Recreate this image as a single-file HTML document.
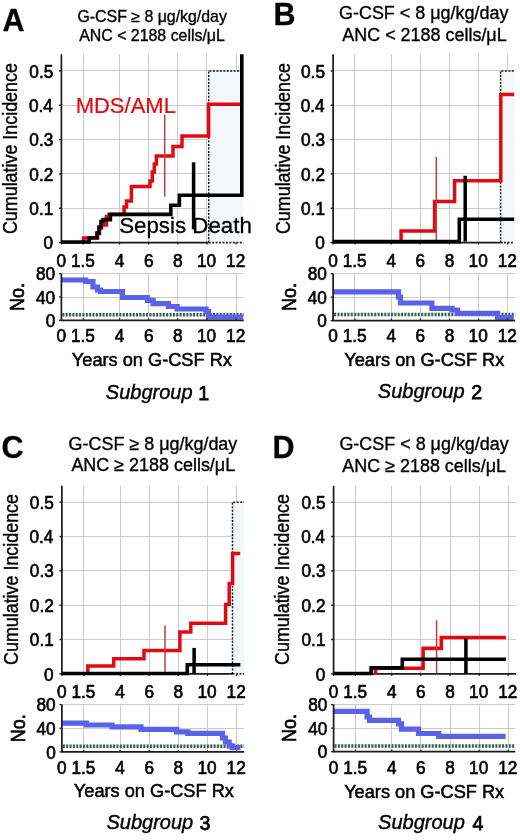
<!DOCTYPE html>
<html><head><meta charset="utf-8"><style>
html,body{margin:0;padding:0;background:#fff;}
svg{display:block;will-change:transform;filter:blur(0.35px);}
text{font-family:"Liberation Sans",sans-serif;}
</style></head><body>
<svg width="520" height="840" viewBox="0 0 520 840">
<rect width="520" height="840" fill="#fff"/>
<path d="M83.50,54.2 V242.6" stroke="#cbcbcb" stroke-width="1.0" fill="none" />
<path d="M119.50,54.2 V242.6" stroke="#cbcbcb" stroke-width="1.0" fill="none" />
<path d="M148.50,54.2 V242.6" stroke="#cbcbcb" stroke-width="1.0" fill="none" />
<path d="M177.50,54.2 V242.6" stroke="#cbcbcb" stroke-width="1.0" fill="none" />
<path d="M206.50,54.2 V242.6" stroke="#cbcbcb" stroke-width="1.0" fill="none" />
<path d="M236.50,54.2 V242.6" stroke="#cbcbcb" stroke-width="1.0" fill="none" />
<path d="M61.4,208.50 H243.5" stroke="#cbcbcb" stroke-width="1.0" fill="none" />
<path d="M61.4,173.50 H243.5" stroke="#cbcbcb" stroke-width="1.0" fill="none" />
<path d="M61.4,139.50 H243.5" stroke="#cbcbcb" stroke-width="1.0" fill="none" />
<path d="M61.4,105.50 H243.5" stroke="#cbcbcb" stroke-width="1.0" fill="none" />
<path d="M61.4,70.50 H243.5" stroke="#cbcbcb" stroke-width="1.0" fill="none" />
<rect x="208.70" y="70.90" width="34.80" height="171.70" fill="#f4f7f9"/>
<path d="M208.7,242.6 V70.90 H243.5" stroke="#111" stroke-width="1.5" fill="none" stroke-dasharray="2 1.45"/>
<path d="M61.4,54.2 V242.6 H208.7" stroke="#1a1a1a" stroke-width="1.7" fill="none" />
<path d="M208.7,242.6 H243.5" stroke="#222" stroke-width="1.7" fill="none" stroke-dasharray="2 1.45"/>
<path d="M58.9,242.60 H61.4" stroke="#1a1a1a" stroke-width="1.4" fill="none" />
<path d="M58.9,208.26 H61.4" stroke="#1a1a1a" stroke-width="1.4" fill="none" />
<path d="M58.9,173.92 H61.4" stroke="#1a1a1a" stroke-width="1.4" fill="none" />
<path d="M58.9,139.58 H61.4" stroke="#1a1a1a" stroke-width="1.4" fill="none" />
<path d="M58.9,105.24 H61.4" stroke="#1a1a1a" stroke-width="1.4" fill="none" />
<path d="M58.9,70.90 H61.4" stroke="#1a1a1a" stroke-width="1.4" fill="none" />
<path d="M61.40,242.6 V244.6" stroke="#1a1a1a" stroke-width="1.2" fill="none" />
<path d="M83.22,242.6 V244.6" stroke="#1a1a1a" stroke-width="1.2" fill="none" />
<path d="M119.60,242.6 V244.6" stroke="#1a1a1a" stroke-width="1.2" fill="none" />
<path d="M148.70,242.6 V244.6" stroke="#1a1a1a" stroke-width="1.2" fill="none" />
<path d="M177.80,242.6 V244.6" stroke="#1a1a1a" stroke-width="1.2" fill="none" />
<path d="M206.90,242.6 V244.6" stroke="#1a1a1a" stroke-width="1.2" fill="none" />
<path d="M236.00,242.6 V244.6" stroke="#1a1a1a" stroke-width="1.2" fill="none" />
<path d="M83.5,243 V238 H97.5 V233.5 H99.5 V228 H101.5 V225 H106.5 V216.5 H109 V214.4 H124.1 V207 H126.5 V201 H131.4 V186.5 H150 V181 H152.3 V172 H154.3 V164 H156.4 V156 H173 V146.4 H182 V136 H208.6 V104.3 H242" stroke="#e00a14" stroke-width="3.5" fill="none" stroke-linejoin="miter" stroke-linecap="butt"/>
<path d="M164.7,114.5 V196.7" stroke="#c83a3a" stroke-width="1.5" fill="none" stroke-linejoin="miter" stroke-linecap="butt"/>
<path d="M61.4,242 H89.2 V237.7 H97 V233 H99 V227 H101 V221.5 H103 V219.6 H110.4 V214.4 H170.8 V205.2 H179.4 V195.3 H241.8 V54.3" stroke="#000" stroke-width="3.6" fill="none" stroke-linejoin="miter" stroke-linecap="butt"/>
<path d="M193.6,162.3 V229.4" stroke="#000" stroke-width="3.5" fill="none" stroke-linejoin="miter" stroke-linecap="butt"/>
<path d="M83.50,273.7 V320.3" stroke="#cbcbcb" stroke-width="1.0" fill="none" />
<path d="M119.50,273.7 V320.3" stroke="#cbcbcb" stroke-width="1.0" fill="none" />
<path d="M148.50,273.7 V320.3" stroke="#cbcbcb" stroke-width="1.0" fill="none" />
<path d="M177.50,273.7 V320.3" stroke="#cbcbcb" stroke-width="1.0" fill="none" />
<path d="M206.50,273.7 V320.3" stroke="#cbcbcb" stroke-width="1.0" fill="none" />
<path d="M236.50,273.7 V320.3" stroke="#cbcbcb" stroke-width="1.0" fill="none" />
<path d="M61.4,297.50 H243.8" stroke="#cbcbcb" stroke-width="1.0" fill="none" />
<path d="M61.4,273.50 H243.8" stroke="#cbcbcb" stroke-width="1.0" fill="none" />
<path d="M62.4,314.7 H243.8" stroke="#dce6e2" stroke-width="3.4" fill="none" />
<path d="M62.4,314.7 H243.8" stroke="#35604f" stroke-width="3.5" fill="none" stroke-dasharray="1.9 1.45"/>
<path d="M61.4,280 H85.5 V281.5 H93.0 V287 H97.5 V290 H100.5 V291.5 H122.5 V297.5 H147.5 V300.3 H153.1 V303.6 H168.5 V306.5 H177.1 V309 H206.0 V311.5 H208.5 V317 H243" stroke="#5b62e8" stroke-width="5.2" fill="none" stroke-linejoin="miter"/>
<path d="M61.4,273.7 V320.3 H243.8" stroke="#1a1a1a" stroke-width="1.7" fill="none" />
<path d="M61.40,320.3 V318.3" stroke="#1a1a1a" stroke-width="1.2" fill="none" />
<path d="M83.22,320.3 V318.3" stroke="#1a1a1a" stroke-width="1.2" fill="none" />
<path d="M119.60,320.3 V318.3" stroke="#1a1a1a" stroke-width="1.2" fill="none" />
<path d="M148.70,320.3 V318.3" stroke="#1a1a1a" stroke-width="1.2" fill="none" />
<path d="M177.80,320.3 V318.3" stroke="#1a1a1a" stroke-width="1.2" fill="none" />
<path d="M206.90,320.3 V318.3" stroke="#1a1a1a" stroke-width="1.2" fill="none" />
<path d="M236.00,320.3 V318.3" stroke="#1a1a1a" stroke-width="1.2" fill="none" />
<path d="M58.9,320.30 H61.4" stroke="#1a1a1a" stroke-width="1.2" fill="none" />
<path d="M58.9,297.00 H61.4" stroke="#1a1a1a" stroke-width="1.2" fill="none" />
<path d="M58.9,273.70 H61.4" stroke="#1a1a1a" stroke-width="1.2" fill="none" />
<text transform="translate(2.58,31.00) scale(1.0,1.0)" font-size="30.5" fill="#000" font-weight="bold" stroke="#000" stroke-width="0.3">A</text>
<text transform="translate(77.41,21.70) scale(1.0,1.0)" font-size="15.9" fill="#000" stroke="#000" stroke-width="0.35">G-CSF ≥ 8 μg/kg/day</text>
<text transform="translate(79.20,40.90) scale(1.0,1.0)" font-size="15.9" fill="#000" stroke="#000" stroke-width="0.35">ANC &lt; 2188 cells/μL</text>
<text transform="translate(17.30,234.06) rotate(-90) scale(1,1.08)" font-size="17.9" fill="#000" stroke="#000" stroke-width="0.35">Cumulative Incidence</text>
<text transform="translate(43.46,249.20) scale(1.0,1.08)" font-size="17.2" fill="#000" stroke="#000" stroke-width="0.6">0</text>
<text transform="translate(29.35,214.86) scale(1.0,1.08)" font-size="17.2" fill="#000" stroke="#000" stroke-width="0.6">0.1</text>
<text transform="translate(29.35,180.52) scale(1.0,1.08)" font-size="17.2" fill="#000" stroke="#000" stroke-width="0.6">0.2</text>
<text transform="translate(29.35,146.18) scale(1.0,1.08)" font-size="17.2" fill="#000" stroke="#000" stroke-width="0.6">0.3</text>
<text transform="translate(29.01,111.84) scale(1.0,1.08)" font-size="17.2" fill="#000" stroke="#000" stroke-width="0.6">0.4</text>
<text transform="translate(29.35,77.50) scale(1.0,1.08)" font-size="17.2" fill="#000" stroke="#000" stroke-width="0.6">0.5</text>
<text transform="translate(56.58,266.50) scale(1.0,1.08)" font-size="17.2" fill="#000" stroke="#000" stroke-width="0.6">0</text>
<text transform="translate(71.01,266.50) scale(1.0,1.08)" font-size="17.2" fill="#000" stroke="#000" stroke-width="0.6">1.5</text>
<text transform="translate(114.87,266.50) scale(1.0,1.08)" font-size="17.2" fill="#000" stroke="#000" stroke-width="0.6">4</text>
<text transform="translate(143.88,266.50) scale(1.0,1.08)" font-size="17.2" fill="#000" stroke="#000" stroke-width="0.6">6</text>
<text transform="translate(173.07,266.50) scale(1.0,1.08)" font-size="17.2" fill="#000" stroke="#000" stroke-width="0.6">8</text>
<text transform="translate(196.92,266.50) scale(1.0,1.08)" font-size="17.2" fill="#000" stroke="#000" stroke-width="0.6">10</text>
<text transform="translate(226.11,266.50) scale(1.0,1.08)" font-size="17.2" fill="#000" stroke="#000" stroke-width="0.6">12</text>
<text transform="translate(45.66,326.90) scale(1.0,1.08)" font-size="17.2" fill="#000" stroke="#000" stroke-width="0.6">0</text>
<text transform="translate(36.02,303.60) scale(1.0,1.08)" font-size="17.2" fill="#000" stroke="#000" stroke-width="0.6">40</text>
<text transform="translate(36.02,280.30) scale(1.0,1.08)" font-size="17.2" fill="#000" stroke="#000" stroke-width="0.6">80</text>
<text transform="translate(23.80,310.95) rotate(-90) scale(1,1.08)" font-size="18" fill="#000" stroke="#000" stroke-width="0.6">No.</text>
<text transform="translate(56.58,342.40) scale(1.0,1.08)" font-size="17.2" fill="#000" stroke="#000" stroke-width="0.6">0</text>
<text transform="translate(71.01,342.40) scale(1.0,1.08)" font-size="17.2" fill="#000" stroke="#000" stroke-width="0.6">1.5</text>
<text transform="translate(114.87,342.40) scale(1.0,1.08)" font-size="17.2" fill="#000" stroke="#000" stroke-width="0.6">4</text>
<text transform="translate(143.88,342.40) scale(1.0,1.08)" font-size="17.2" fill="#000" stroke="#000" stroke-width="0.6">6</text>
<text transform="translate(173.07,342.40) scale(1.0,1.08)" font-size="17.2" fill="#000" stroke="#000" stroke-width="0.6">8</text>
<text transform="translate(196.92,342.40) scale(1.0,1.08)" font-size="17.2" fill="#000" stroke="#000" stroke-width="0.6">10</text>
<text transform="translate(226.11,342.40) scale(1.0,1.08)" font-size="17.2" fill="#000" stroke="#000" stroke-width="0.6">12</text>
<text transform="translate(71.85,366.30) scale(1.0,1.0)" font-size="18.2" fill="#000" stroke="#000" stroke-width="0.5">Years on G-CSF Rx</text>
<text transform="translate(105.80,398.60) scale(1.0,1.0)" font-size="20" fill="#000" font-style="italic" stroke="#000" stroke-width="0.4">Subgroup</text>
<text transform="translate(198.23,399.60) scale(1.0,1.0)" font-size="19.6" fill="#000" stroke="#000" stroke-width="0.75">1</text>
<path d="M354.50,54.2 V242.6" stroke="#cbcbcb" stroke-width="1.0" fill="none" />
<path d="M391.50,54.2 V242.6" stroke="#cbcbcb" stroke-width="1.0" fill="none" />
<path d="M420.50,54.2 V242.6" stroke="#cbcbcb" stroke-width="1.0" fill="none" />
<path d="M449.50,54.2 V242.6" stroke="#cbcbcb" stroke-width="1.0" fill="none" />
<path d="M478.50,54.2 V242.6" stroke="#cbcbcb" stroke-width="1.0" fill="none" />
<path d="M507.50,54.2 V242.6" stroke="#cbcbcb" stroke-width="1.0" fill="none" />
<path d="M333.1,208.50 H514.5" stroke="#cbcbcb" stroke-width="1.0" fill="none" />
<path d="M333.1,173.50 H514.5" stroke="#cbcbcb" stroke-width="1.0" fill="none" />
<path d="M333.1,139.50 H514.5" stroke="#cbcbcb" stroke-width="1.0" fill="none" />
<path d="M333.1,105.50 H514.5" stroke="#cbcbcb" stroke-width="1.0" fill="none" />
<path d="M333.1,70.50 H514.5" stroke="#cbcbcb" stroke-width="1.0" fill="none" />
<rect x="500.60" y="70.90" width="13.90" height="171.70" fill="#f4f7f9"/>
<path d="M500.6,242.6 V70.90 H514.5" stroke="#111" stroke-width="1.5" fill="none" stroke-dasharray="2 1.45"/>
<path d="M333.1,54.2 V242.6 H500.6" stroke="#1a1a1a" stroke-width="1.7" fill="none" />
<path d="M500.6,242.6 H514.5" stroke="#222" stroke-width="1.7" fill="none" stroke-dasharray="2 1.45"/>
<path d="M330.6,242.60 H333.1" stroke="#1a1a1a" stroke-width="1.4" fill="none" />
<path d="M330.6,208.26 H333.1" stroke="#1a1a1a" stroke-width="1.4" fill="none" />
<path d="M330.6,173.92 H333.1" stroke="#1a1a1a" stroke-width="1.4" fill="none" />
<path d="M330.6,139.58 H333.1" stroke="#1a1a1a" stroke-width="1.4" fill="none" />
<path d="M330.6,105.24 H333.1" stroke="#1a1a1a" stroke-width="1.4" fill="none" />
<path d="M330.6,70.90 H333.1" stroke="#1a1a1a" stroke-width="1.4" fill="none" />
<path d="M333.10,242.6 V244.6" stroke="#1a1a1a" stroke-width="1.2" fill="none" />
<path d="M354.93,242.6 V244.6" stroke="#1a1a1a" stroke-width="1.2" fill="none" />
<path d="M391.30,242.6 V244.6" stroke="#1a1a1a" stroke-width="1.2" fill="none" />
<path d="M420.40,242.6 V244.6" stroke="#1a1a1a" stroke-width="1.2" fill="none" />
<path d="M449.50,242.6 V244.6" stroke="#1a1a1a" stroke-width="1.2" fill="none" />
<path d="M478.60,242.6 V244.6" stroke="#1a1a1a" stroke-width="1.2" fill="none" />
<path d="M507.70,242.6 V244.6" stroke="#1a1a1a" stroke-width="1.2" fill="none" />
<path d="M401.1,242.6 V231.1 H434.6 V201.5 H454.6 V180.7 H500.8 V94.6 H514.2" stroke="#e00a14" stroke-width="3.5" fill="none" stroke-linejoin="miter" stroke-linecap="butt"/>
<path d="M436.3,156.9 V241" stroke="#c83a3a" stroke-width="1.5" fill="none" stroke-linejoin="miter" stroke-linecap="butt"/>
<path d="M333.1,241.6 H459.3 V219.2 H514.2" stroke="#000" stroke-width="3.6" fill="none" stroke-linejoin="miter" stroke-linecap="butt"/>
<path d="M465.2,175.8 V241.6" stroke="#000" stroke-width="3.5" fill="none" stroke-linejoin="miter" stroke-linecap="butt"/>
<path d="M354.50,273.7 V320.6" stroke="#cbcbcb" stroke-width="1.0" fill="none" />
<path d="M391.50,273.7 V320.6" stroke="#cbcbcb" stroke-width="1.0" fill="none" />
<path d="M420.50,273.7 V320.6" stroke="#cbcbcb" stroke-width="1.0" fill="none" />
<path d="M449.50,273.7 V320.6" stroke="#cbcbcb" stroke-width="1.0" fill="none" />
<path d="M478.50,273.7 V320.6" stroke="#cbcbcb" stroke-width="1.0" fill="none" />
<path d="M507.50,273.7 V320.6" stroke="#cbcbcb" stroke-width="1.0" fill="none" />
<path d="M333.1,297.50 H515.2" stroke="#cbcbcb" stroke-width="1.0" fill="none" />
<path d="M333.1,273.50 H515.2" stroke="#cbcbcb" stroke-width="1.0" fill="none" />
<path d="M334.1,314.5 H515.2" stroke="#dce6e2" stroke-width="3.4" fill="none" />
<path d="M334.1,314.5 H515.2" stroke="#35604f" stroke-width="3.5" fill="none" stroke-dasharray="1.9 1.45"/>
<path d="M333.1,291.9 H398.5 V297 H400.5 V303 H431.9 V308.4 H452.1 V310 H457.5 V313.3 H497.5 V317.7 H513.8" stroke="#5b62e8" stroke-width="5.2" fill="none" stroke-linejoin="miter"/>
<path d="M333.1,273.7 V320.6 H515.2" stroke="#1a1a1a" stroke-width="1.7" fill="none" />
<path d="M333.10,320.6 V318.6" stroke="#1a1a1a" stroke-width="1.2" fill="none" />
<path d="M354.93,320.6 V318.6" stroke="#1a1a1a" stroke-width="1.2" fill="none" />
<path d="M391.30,320.6 V318.6" stroke="#1a1a1a" stroke-width="1.2" fill="none" />
<path d="M420.40,320.6 V318.6" stroke="#1a1a1a" stroke-width="1.2" fill="none" />
<path d="M449.50,320.6 V318.6" stroke="#1a1a1a" stroke-width="1.2" fill="none" />
<path d="M478.60,320.6 V318.6" stroke="#1a1a1a" stroke-width="1.2" fill="none" />
<path d="M507.70,320.6 V318.6" stroke="#1a1a1a" stroke-width="1.2" fill="none" />
<path d="M330.6,320.60 H333.1" stroke="#1a1a1a" stroke-width="1.2" fill="none" />
<path d="M330.6,297.15 H333.1" stroke="#1a1a1a" stroke-width="1.2" fill="none" />
<path d="M330.6,273.70 H333.1" stroke="#1a1a1a" stroke-width="1.2" fill="none" />
<text transform="translate(273.56,24.80) scale(1.0,1.0)" font-size="30.5" fill="#000" font-weight="bold" stroke="#000" stroke-width="0.3">B</text>
<text transform="translate(339.00,18.60) scale(1.0,1.0)" font-size="17.95" fill="#000" stroke="#000" stroke-width="0.35">G-CSF &lt; 8 μg/kg/day</text>
<text transform="translate(342.30,40.60) scale(1.0,1.0)" font-size="17.95" fill="#000" stroke="#000" stroke-width="0.35">ANC &lt; 2188 cells/μL</text>
<text transform="translate(289.50,234.06) rotate(-90) scale(1,1.08)" font-size="17.9" fill="#000" stroke="#000" stroke-width="0.35">Cumulative Incidence</text>
<text transform="translate(315.16,249.20) scale(1.0,1.08)" font-size="17.2" fill="#000" stroke="#000" stroke-width="0.6">0</text>
<text transform="translate(301.05,214.86) scale(1.0,1.08)" font-size="17.2" fill="#000" stroke="#000" stroke-width="0.6">0.1</text>
<text transform="translate(301.05,180.52) scale(1.0,1.08)" font-size="17.2" fill="#000" stroke="#000" stroke-width="0.6">0.2</text>
<text transform="translate(301.05,146.18) scale(1.0,1.08)" font-size="17.2" fill="#000" stroke="#000" stroke-width="0.6">0.3</text>
<text transform="translate(300.71,111.84) scale(1.0,1.08)" font-size="17.2" fill="#000" stroke="#000" stroke-width="0.6">0.4</text>
<text transform="translate(301.05,77.50) scale(1.0,1.08)" font-size="17.2" fill="#000" stroke="#000" stroke-width="0.6">0.5</text>
<text transform="translate(328.28,266.50) scale(1.0,1.08)" font-size="17.2" fill="#000" stroke="#000" stroke-width="0.6">0</text>
<text transform="translate(342.71,266.50) scale(1.0,1.08)" font-size="17.2" fill="#000" stroke="#000" stroke-width="0.6">1.5</text>
<text transform="translate(386.57,266.50) scale(1.0,1.08)" font-size="17.2" fill="#000" stroke="#000" stroke-width="0.6">4</text>
<text transform="translate(415.58,266.50) scale(1.0,1.08)" font-size="17.2" fill="#000" stroke="#000" stroke-width="0.6">6</text>
<text transform="translate(444.77,266.50) scale(1.0,1.08)" font-size="17.2" fill="#000" stroke="#000" stroke-width="0.6">8</text>
<text transform="translate(468.62,266.50) scale(1.0,1.08)" font-size="17.2" fill="#000" stroke="#000" stroke-width="0.6">10</text>
<text transform="translate(497.81,266.50) scale(1.0,1.08)" font-size="17.2" fill="#000" stroke="#000" stroke-width="0.6">12</text>
<text transform="translate(317.36,327.20) scale(1.0,1.08)" font-size="17.2" fill="#000" stroke="#000" stroke-width="0.6">0</text>
<text transform="translate(307.72,303.75) scale(1.0,1.08)" font-size="17.2" fill="#000" stroke="#000" stroke-width="0.6">40</text>
<text transform="translate(307.72,280.30) scale(1.0,1.08)" font-size="17.2" fill="#000" stroke="#000" stroke-width="0.6">80</text>
<text transform="translate(296.00,311.10) rotate(-90) scale(1,1.08)" font-size="18" fill="#000" stroke="#000" stroke-width="0.6">No.</text>
<text transform="translate(328.28,342.40) scale(1.0,1.08)" font-size="17.2" fill="#000" stroke="#000" stroke-width="0.6">0</text>
<text transform="translate(342.71,342.40) scale(1.0,1.08)" font-size="17.2" fill="#000" stroke="#000" stroke-width="0.6">1.5</text>
<text transform="translate(386.57,342.40) scale(1.0,1.08)" font-size="17.2" fill="#000" stroke="#000" stroke-width="0.6">4</text>
<text transform="translate(415.58,342.40) scale(1.0,1.08)" font-size="17.2" fill="#000" stroke="#000" stroke-width="0.6">6</text>
<text transform="translate(444.77,342.40) scale(1.0,1.08)" font-size="17.2" fill="#000" stroke="#000" stroke-width="0.6">8</text>
<text transform="translate(468.62,342.40) scale(1.0,1.08)" font-size="17.2" fill="#000" stroke="#000" stroke-width="0.6">10</text>
<text transform="translate(497.81,342.40) scale(1.0,1.08)" font-size="17.2" fill="#000" stroke="#000" stroke-width="0.6">12</text>
<text transform="translate(344.25,366.30) scale(1.0,1.0)" font-size="18.2" fill="#000" stroke="#000" stroke-width="0.5">Years on G-CSF Rx</text>
<text transform="translate(377.80,398.30) scale(1.0,1.0)" font-size="20" fill="#000" font-style="italic" stroke="#000" stroke-width="0.4">Subgroup</text>
<text transform="translate(471.22,399.30) scale(1.0,1.0)" font-size="19.6" fill="#000" stroke="#000" stroke-width="0.75">2</text>
<path d="M83.50,485.7 V673.9" stroke="#cbcbcb" stroke-width="1.0" fill="none" />
<path d="M120.50,485.7 V673.9" stroke="#cbcbcb" stroke-width="1.0" fill="none" />
<path d="M149.50,485.7 V673.9" stroke="#cbcbcb" stroke-width="1.0" fill="none" />
<path d="M178.50,485.7 V673.9" stroke="#cbcbcb" stroke-width="1.0" fill="none" />
<path d="M207.50,485.7 V673.9" stroke="#cbcbcb" stroke-width="1.0" fill="none" />
<path d="M236.50,485.7 V673.9" stroke="#cbcbcb" stroke-width="1.0" fill="none" />
<path d="M61.9,639.50 H244.0" stroke="#cbcbcb" stroke-width="1.0" fill="none" />
<path d="M61.9,605.50 H244.0" stroke="#cbcbcb" stroke-width="1.0" fill="none" />
<path d="M61.9,570.50 H244.0" stroke="#cbcbcb" stroke-width="1.0" fill="none" />
<path d="M61.9,536.50 H244.0" stroke="#cbcbcb" stroke-width="1.0" fill="none" />
<path d="M61.9,502.50 H244.0" stroke="#cbcbcb" stroke-width="1.0" fill="none" />
<rect x="232.50" y="502.15" width="11.50" height="171.75" fill="#f4f7f9"/>
<path d="M232.5,673.9 V502.15 H244.0" stroke="#111" stroke-width="1.5" fill="none" stroke-dasharray="2 1.45"/>
<path d="M61.9,485.7 V673.9 H232.5" stroke="#1a1a1a" stroke-width="1.7" fill="none" />
<path d="M232.5,673.9 H244.0" stroke="#222" stroke-width="1.7" fill="none" stroke-dasharray="2 1.45"/>
<path d="M59.4,673.90 H61.9" stroke="#1a1a1a" stroke-width="1.4" fill="none" />
<path d="M59.4,639.55 H61.9" stroke="#1a1a1a" stroke-width="1.4" fill="none" />
<path d="M59.4,605.20 H61.9" stroke="#1a1a1a" stroke-width="1.4" fill="none" />
<path d="M59.4,570.85 H61.9" stroke="#1a1a1a" stroke-width="1.4" fill="none" />
<path d="M59.4,536.50 H61.9" stroke="#1a1a1a" stroke-width="1.4" fill="none" />
<path d="M59.4,502.15 H61.9" stroke="#1a1a1a" stroke-width="1.4" fill="none" />
<path d="M61.90,673.9 V675.9" stroke="#1a1a1a" stroke-width="1.2" fill="none" />
<path d="M83.72,673.9 V675.9" stroke="#1a1a1a" stroke-width="1.2" fill="none" />
<path d="M120.10,673.9 V675.9" stroke="#1a1a1a" stroke-width="1.2" fill="none" />
<path d="M149.20,673.9 V675.9" stroke="#1a1a1a" stroke-width="1.2" fill="none" />
<path d="M178.30,673.9 V675.9" stroke="#1a1a1a" stroke-width="1.2" fill="none" />
<path d="M207.40,673.9 V675.9" stroke="#1a1a1a" stroke-width="1.2" fill="none" />
<path d="M236.50,673.9 V675.9" stroke="#1a1a1a" stroke-width="1.2" fill="none" />
<path d="M87.8,674.5 V666.1 H113.7 V658.7 H144 V650.5 H179.9 V632 H190.8 V623.3 H225.6 V604.5 H229.2 V583.5 H232.6 V553.5 H240.2" stroke="#e00a14" stroke-width="3.5" fill="none" stroke-linejoin="miter" stroke-linecap="butt"/>
<path d="M165,625.5 V673" stroke="#c83a3a" stroke-width="1.5" fill="none" stroke-linejoin="miter" stroke-linecap="butt"/>
<path d="M61.9,673.5 H187.3 V664.8 H240.4" stroke="#000" stroke-width="3.6" fill="none" stroke-linejoin="miter" stroke-linecap="butt"/>
<path d="M194.1,647.9 V673.5" stroke="#000" stroke-width="3.5" fill="none" stroke-linejoin="miter" stroke-linecap="butt"/>
<path d="M83.50,704.6 V751.9" stroke="#cbcbcb" stroke-width="1.0" fill="none" />
<path d="M120.50,704.6 V751.9" stroke="#cbcbcb" stroke-width="1.0" fill="none" />
<path d="M149.50,704.6 V751.9" stroke="#cbcbcb" stroke-width="1.0" fill="none" />
<path d="M178.50,704.6 V751.9" stroke="#cbcbcb" stroke-width="1.0" fill="none" />
<path d="M207.50,704.6 V751.9" stroke="#cbcbcb" stroke-width="1.0" fill="none" />
<path d="M236.50,704.6 V751.9" stroke="#cbcbcb" stroke-width="1.0" fill="none" />
<path d="M61.9,728.50 H244.2" stroke="#cbcbcb" stroke-width="1.0" fill="none" />
<path d="M61.9,704.50 H244.2" stroke="#cbcbcb" stroke-width="1.0" fill="none" />
<path d="M62.9,746.2 H244.2" stroke="#dce6e2" stroke-width="3.4" fill="none" />
<path d="M62.9,746.2 H244.2" stroke="#35604f" stroke-width="3.5" fill="none" stroke-dasharray="1.9 1.45"/>
<path d="M62,723.1 H86.2 V725 H112.1 V726.9 H141.0 V729.4 H176.7 V731.9 H187.9 V733.3 H222.5 V738 H225.5 V742 H229.2 V745.8 H232.1 V747.7 H240.4" stroke="#5b62e8" stroke-width="5.2" fill="none" stroke-linejoin="miter"/>
<path d="M61.9,704.6 V751.9 H244.2" stroke="#1a1a1a" stroke-width="1.7" fill="none" />
<path d="M61.90,751.9 V749.9" stroke="#1a1a1a" stroke-width="1.2" fill="none" />
<path d="M83.72,751.9 V749.9" stroke="#1a1a1a" stroke-width="1.2" fill="none" />
<path d="M120.10,751.9 V749.9" stroke="#1a1a1a" stroke-width="1.2" fill="none" />
<path d="M149.20,751.9 V749.9" stroke="#1a1a1a" stroke-width="1.2" fill="none" />
<path d="M178.30,751.9 V749.9" stroke="#1a1a1a" stroke-width="1.2" fill="none" />
<path d="M207.40,751.9 V749.9" stroke="#1a1a1a" stroke-width="1.2" fill="none" />
<path d="M236.50,751.9 V749.9" stroke="#1a1a1a" stroke-width="1.2" fill="none" />
<path d="M59.4,751.90 H61.9" stroke="#1a1a1a" stroke-width="1.2" fill="none" />
<path d="M59.4,728.25 H61.9" stroke="#1a1a1a" stroke-width="1.2" fill="none" />
<path d="M59.4,704.60 H61.9" stroke="#1a1a1a" stroke-width="1.2" fill="none" />
<text transform="translate(1.53,458.30) scale(1.0,1.0)" font-size="30.5" fill="#000" font-weight="bold" stroke="#000" stroke-width="0.3">C</text>
<text transform="translate(68.60,449.80) scale(1.0,1.0)" font-size="17.95" fill="#000" stroke="#000" stroke-width="0.35">G-CSF ≥ 8 μg/kg/day</text>
<text transform="translate(71.40,471.20) scale(1.0,1.0)" font-size="17.95" fill="#000" stroke="#000" stroke-width="0.35">ANC ≥ 2188 cells/μL</text>
<text transform="translate(17.50,664.96) rotate(-90) scale(1,1.08)" font-size="17.9" fill="#000" stroke="#000" stroke-width="0.35">Cumulative Incidence</text>
<text transform="translate(43.96,680.50) scale(1.0,1.08)" font-size="17.2" fill="#000" stroke="#000" stroke-width="0.6">0</text>
<text transform="translate(29.85,646.15) scale(1.0,1.08)" font-size="17.2" fill="#000" stroke="#000" stroke-width="0.6">0.1</text>
<text transform="translate(29.85,611.80) scale(1.0,1.08)" font-size="17.2" fill="#000" stroke="#000" stroke-width="0.6">0.2</text>
<text transform="translate(29.85,577.45) scale(1.0,1.08)" font-size="17.2" fill="#000" stroke="#000" stroke-width="0.6">0.3</text>
<text transform="translate(29.51,543.10) scale(1.0,1.08)" font-size="17.2" fill="#000" stroke="#000" stroke-width="0.6">0.4</text>
<text transform="translate(29.85,508.75) scale(1.0,1.08)" font-size="17.2" fill="#000" stroke="#000" stroke-width="0.6">0.5</text>
<text transform="translate(57.08,697.80) scale(1.0,1.08)" font-size="17.2" fill="#000" stroke="#000" stroke-width="0.6">0</text>
<text transform="translate(71.51,697.80) scale(1.0,1.08)" font-size="17.2" fill="#000" stroke="#000" stroke-width="0.6">1.5</text>
<text transform="translate(115.37,697.80) scale(1.0,1.08)" font-size="17.2" fill="#000" stroke="#000" stroke-width="0.6">4</text>
<text transform="translate(144.38,697.80) scale(1.0,1.08)" font-size="17.2" fill="#000" stroke="#000" stroke-width="0.6">6</text>
<text transform="translate(173.57,697.80) scale(1.0,1.08)" font-size="17.2" fill="#000" stroke="#000" stroke-width="0.6">8</text>
<text transform="translate(197.42,697.80) scale(1.0,1.08)" font-size="17.2" fill="#000" stroke="#000" stroke-width="0.6">10</text>
<text transform="translate(226.61,697.80) scale(1.0,1.08)" font-size="17.2" fill="#000" stroke="#000" stroke-width="0.6">12</text>
<text transform="translate(46.16,758.50) scale(1.0,1.08)" font-size="17.2" fill="#000" stroke="#000" stroke-width="0.6">0</text>
<text transform="translate(36.52,734.85) scale(1.0,1.08)" font-size="17.2" fill="#000" stroke="#000" stroke-width="0.6">40</text>
<text transform="translate(36.52,711.20) scale(1.0,1.08)" font-size="17.2" fill="#000" stroke="#000" stroke-width="0.6">80</text>
<text transform="translate(24.50,742.20) rotate(-90) scale(1,1.08)" font-size="18" fill="#000" stroke="#000" stroke-width="0.6">No.</text>
<text transform="translate(57.08,773.50) scale(1.0,1.08)" font-size="17.2" fill="#000" stroke="#000" stroke-width="0.6">0</text>
<text transform="translate(71.51,773.50) scale(1.0,1.08)" font-size="17.2" fill="#000" stroke="#000" stroke-width="0.6">1.5</text>
<text transform="translate(115.37,773.50) scale(1.0,1.08)" font-size="17.2" fill="#000" stroke="#000" stroke-width="0.6">4</text>
<text transform="translate(144.38,773.50) scale(1.0,1.08)" font-size="17.2" fill="#000" stroke="#000" stroke-width="0.6">6</text>
<text transform="translate(173.57,773.50) scale(1.0,1.08)" font-size="17.2" fill="#000" stroke="#000" stroke-width="0.6">8</text>
<text transform="translate(197.42,773.50) scale(1.0,1.08)" font-size="17.2" fill="#000" stroke="#000" stroke-width="0.6">10</text>
<text transform="translate(226.61,773.50) scale(1.0,1.08)" font-size="17.2" fill="#000" stroke="#000" stroke-width="0.6">12</text>
<text transform="translate(73.85,797.40) scale(1.0,1.0)" font-size="18.2" fill="#000" stroke="#000" stroke-width="0.5">Years on G-CSF Rx</text>
<text transform="translate(106.50,828.80) scale(1.0,1.0)" font-size="20" fill="#000" font-style="italic" stroke="#000" stroke-width="0.4">Subgroup</text>
<text transform="translate(199.42,829.80) scale(1.0,1.0)" font-size="19.6" fill="#000" stroke="#000" stroke-width="0.75">3</text>
<path d="M355.50,485.8 V673.9" stroke="#cbcbcb" stroke-width="1.0" fill="none" />
<path d="M391.50,485.8 V673.9" stroke="#cbcbcb" stroke-width="1.0" fill="none" />
<path d="M420.50,485.8 V673.9" stroke="#cbcbcb" stroke-width="1.0" fill="none" />
<path d="M450.50,485.8 V673.9" stroke="#cbcbcb" stroke-width="1.0" fill="none" />
<path d="M479.50,485.8 V673.9" stroke="#cbcbcb" stroke-width="1.0" fill="none" />
<path d="M508.50,485.8 V673.9" stroke="#cbcbcb" stroke-width="1.0" fill="none" />
<path d="M333.6,639.50 H516.0" stroke="#cbcbcb" stroke-width="1.0" fill="none" />
<path d="M333.6,605.50 H516.0" stroke="#cbcbcb" stroke-width="1.0" fill="none" />
<path d="M333.6,570.50 H516.0" stroke="#cbcbcb" stroke-width="1.0" fill="none" />
<path d="M333.6,536.50 H516.0" stroke="#cbcbcb" stroke-width="1.0" fill="none" />
<path d="M333.6,502.50 H516.0" stroke="#cbcbcb" stroke-width="1.0" fill="none" />
<path d="M333.6,485.8 V673.9 H516.0" stroke="#1a1a1a" stroke-width="1.7" fill="none" />
<path d="M331.1,673.90 H333.6" stroke="#1a1a1a" stroke-width="1.4" fill="none" />
<path d="M331.1,639.55 H333.6" stroke="#1a1a1a" stroke-width="1.4" fill="none" />
<path d="M331.1,605.20 H333.6" stroke="#1a1a1a" stroke-width="1.4" fill="none" />
<path d="M331.1,570.85 H333.6" stroke="#1a1a1a" stroke-width="1.4" fill="none" />
<path d="M331.1,536.50 H333.6" stroke="#1a1a1a" stroke-width="1.4" fill="none" />
<path d="M331.1,502.15 H333.6" stroke="#1a1a1a" stroke-width="1.4" fill="none" />
<path d="M333.60,673.9 V675.9" stroke="#1a1a1a" stroke-width="1.2" fill="none" />
<path d="M355.43,673.9 V675.9" stroke="#1a1a1a" stroke-width="1.2" fill="none" />
<path d="M391.80,673.9 V675.9" stroke="#1a1a1a" stroke-width="1.2" fill="none" />
<path d="M420.90,673.9 V675.9" stroke="#1a1a1a" stroke-width="1.2" fill="none" />
<path d="M450.00,673.9 V675.9" stroke="#1a1a1a" stroke-width="1.2" fill="none" />
<path d="M479.10,673.9 V675.9" stroke="#1a1a1a" stroke-width="1.2" fill="none" />
<path d="M508.20,673.9 V675.9" stroke="#1a1a1a" stroke-width="1.2" fill="none" />
<path d="M375.5,674.5 V668.3 H423.1 V648.4 H441.3 V637.5 H505.9" stroke="#e00a14" stroke-width="3.6" fill="none" stroke-linejoin="miter" stroke-linecap="butt"/>
<path d="M436.6,620.3 V673.5" stroke="#c83a3a" stroke-width="1.5" fill="none" stroke-linejoin="miter" stroke-linecap="butt"/>
<path d="M333.6,673.5 H371.1 V667.9 H402.3 V659.3 H505.9" stroke="#000" stroke-width="3.6" fill="none" stroke-linejoin="miter" stroke-linecap="butt"/>
<path d="M465.9,638.5 V673.9" stroke="#000" stroke-width="3.5" fill="none" stroke-linejoin="miter" stroke-linecap="butt"/>
<path d="M355.50,704.6 V751.7" stroke="#cbcbcb" stroke-width="1.0" fill="none" />
<path d="M391.50,704.6 V751.7" stroke="#cbcbcb" stroke-width="1.0" fill="none" />
<path d="M420.50,704.6 V751.7" stroke="#cbcbcb" stroke-width="1.0" fill="none" />
<path d="M450.50,704.6 V751.7" stroke="#cbcbcb" stroke-width="1.0" fill="none" />
<path d="M479.50,704.6 V751.7" stroke="#cbcbcb" stroke-width="1.0" fill="none" />
<path d="M508.50,704.6 V751.7" stroke="#cbcbcb" stroke-width="1.0" fill="none" />
<path d="M333.6,728.50 H515.2" stroke="#cbcbcb" stroke-width="1.0" fill="none" />
<path d="M333.6,704.50 H515.2" stroke="#cbcbcb" stroke-width="1.0" fill="none" />
<path d="M334.6,746.0 H515.2" stroke="#dce6e2" stroke-width="3.4" fill="none" />
<path d="M334.6,746.0 H515.2" stroke="#35604f" stroke-width="3.5" fill="none" stroke-dasharray="1.9 1.45"/>
<path d="M333.7,711.3 H367.1 V717 H369.5 V720.4 H398.5 V723.8 H401.5 V729.2 H418.5 V733.5 H438.7 V736.3 H505.6" stroke="#5b62e8" stroke-width="5.2" fill="none" stroke-linejoin="miter"/>
<path d="M333.6,704.6 V751.7 H515.2" stroke="#1a1a1a" stroke-width="1.7" fill="none" />
<path d="M333.60,751.7 V749.7" stroke="#1a1a1a" stroke-width="1.2" fill="none" />
<path d="M355.43,751.7 V749.7" stroke="#1a1a1a" stroke-width="1.2" fill="none" />
<path d="M391.80,751.7 V749.7" stroke="#1a1a1a" stroke-width="1.2" fill="none" />
<path d="M420.90,751.7 V749.7" stroke="#1a1a1a" stroke-width="1.2" fill="none" />
<path d="M450.00,751.7 V749.7" stroke="#1a1a1a" stroke-width="1.2" fill="none" />
<path d="M479.10,751.7 V749.7" stroke="#1a1a1a" stroke-width="1.2" fill="none" />
<path d="M508.20,751.7 V749.7" stroke="#1a1a1a" stroke-width="1.2" fill="none" />
<path d="M331.1,751.70 H333.6" stroke="#1a1a1a" stroke-width="1.2" fill="none" />
<path d="M331.1,728.15 H333.6" stroke="#1a1a1a" stroke-width="1.2" fill="none" />
<path d="M331.1,704.60 H333.6" stroke="#1a1a1a" stroke-width="1.2" fill="none" />
<text transform="translate(272.47,458.30) scale(1.0,1.0)" font-size="30.5" fill="#000" font-weight="bold" stroke="#000" stroke-width="0.3">D</text>
<text transform="translate(339.40,449.80) scale(1.0,1.0)" font-size="17.95" fill="#000" stroke="#000" stroke-width="0.35">G-CSF &lt; 8 μg/kg/day</text>
<text transform="translate(342.30,471.60) scale(1.0,1.0)" font-size="17.95" fill="#000" stroke="#000" stroke-width="0.35">ANC ≥ 2188 cells/μL</text>
<text transform="translate(288.90,664.96) rotate(-90) scale(1,1.08)" font-size="17.9" fill="#000" stroke="#000" stroke-width="0.35">Cumulative Incidence</text>
<text transform="translate(315.66,680.50) scale(1.0,1.08)" font-size="17.2" fill="#000" stroke="#000" stroke-width="0.6">0</text>
<text transform="translate(301.55,646.15) scale(1.0,1.08)" font-size="17.2" fill="#000" stroke="#000" stroke-width="0.6">0.1</text>
<text transform="translate(301.55,611.80) scale(1.0,1.08)" font-size="17.2" fill="#000" stroke="#000" stroke-width="0.6">0.2</text>
<text transform="translate(301.55,577.45) scale(1.0,1.08)" font-size="17.2" fill="#000" stroke="#000" stroke-width="0.6">0.3</text>
<text transform="translate(301.21,543.10) scale(1.0,1.08)" font-size="17.2" fill="#000" stroke="#000" stroke-width="0.6">0.4</text>
<text transform="translate(301.55,508.75) scale(1.0,1.08)" font-size="17.2" fill="#000" stroke="#000" stroke-width="0.6">0.5</text>
<text transform="translate(328.78,697.80) scale(1.0,1.08)" font-size="17.2" fill="#000" stroke="#000" stroke-width="0.6">0</text>
<text transform="translate(343.21,697.80) scale(1.0,1.08)" font-size="17.2" fill="#000" stroke="#000" stroke-width="0.6">1.5</text>
<text transform="translate(387.07,697.80) scale(1.0,1.08)" font-size="17.2" fill="#000" stroke="#000" stroke-width="0.6">4</text>
<text transform="translate(416.08,697.80) scale(1.0,1.08)" font-size="17.2" fill="#000" stroke="#000" stroke-width="0.6">6</text>
<text transform="translate(445.27,697.80) scale(1.0,1.08)" font-size="17.2" fill="#000" stroke="#000" stroke-width="0.6">8</text>
<text transform="translate(469.12,697.80) scale(1.0,1.08)" font-size="17.2" fill="#000" stroke="#000" stroke-width="0.6">10</text>
<text transform="translate(498.31,697.80) scale(1.0,1.08)" font-size="17.2" fill="#000" stroke="#000" stroke-width="0.6">12</text>
<text transform="translate(317.86,758.30) scale(1.0,1.08)" font-size="17.2" fill="#000" stroke="#000" stroke-width="0.6">0</text>
<text transform="translate(308.22,734.75) scale(1.0,1.08)" font-size="17.2" fill="#000" stroke="#000" stroke-width="0.6">40</text>
<text transform="translate(308.22,711.20) scale(1.0,1.08)" font-size="17.2" fill="#000" stroke="#000" stroke-width="0.6">80</text>
<text transform="translate(296.00,742.10) rotate(-90) scale(1,1.08)" font-size="18" fill="#000" stroke="#000" stroke-width="0.6">No.</text>
<text transform="translate(328.78,773.50) scale(1.0,1.08)" font-size="17.2" fill="#000" stroke="#000" stroke-width="0.6">0</text>
<text transform="translate(343.21,773.50) scale(1.0,1.08)" font-size="17.2" fill="#000" stroke="#000" stroke-width="0.6">1.5</text>
<text transform="translate(387.07,773.50) scale(1.0,1.08)" font-size="17.2" fill="#000" stroke="#000" stroke-width="0.6">4</text>
<text transform="translate(416.08,773.50) scale(1.0,1.08)" font-size="17.2" fill="#000" stroke="#000" stroke-width="0.6">6</text>
<text transform="translate(445.27,773.50) scale(1.0,1.08)" font-size="17.2" fill="#000" stroke="#000" stroke-width="0.6">8</text>
<text transform="translate(469.12,773.50) scale(1.0,1.08)" font-size="17.2" fill="#000" stroke="#000" stroke-width="0.6">10</text>
<text transform="translate(498.31,773.50) scale(1.0,1.08)" font-size="17.2" fill="#000" stroke="#000" stroke-width="0.6">12</text>
<text transform="translate(344.15,797.50) scale(1.0,1.0)" font-size="18.2" fill="#000" stroke="#000" stroke-width="0.5">Years on G-CSF Rx</text>
<text transform="translate(378.10,829.00) scale(1.0,1.0)" font-size="20" fill="#000" font-style="italic" stroke="#000" stroke-width="0.4">Subgroup</text>
<text transform="translate(472.61,830.00) scale(1.0,1.0)" font-size="19.6" fill="#000" stroke="#000" stroke-width="0.75">4</text>
<text transform="translate(75.64,112.80) scale(1.0,1.0)" font-size="22.0" fill="#e00a14" stroke="#e00a14" stroke-width="0.2">MDS/AML</text>
<text transform="translate(119.19,233.00) scale(1.0,1.0)" font-size="22.3" fill="#000" stroke="#000" stroke-width="0.3">Sepsis Death</text>
</svg></body></html>
